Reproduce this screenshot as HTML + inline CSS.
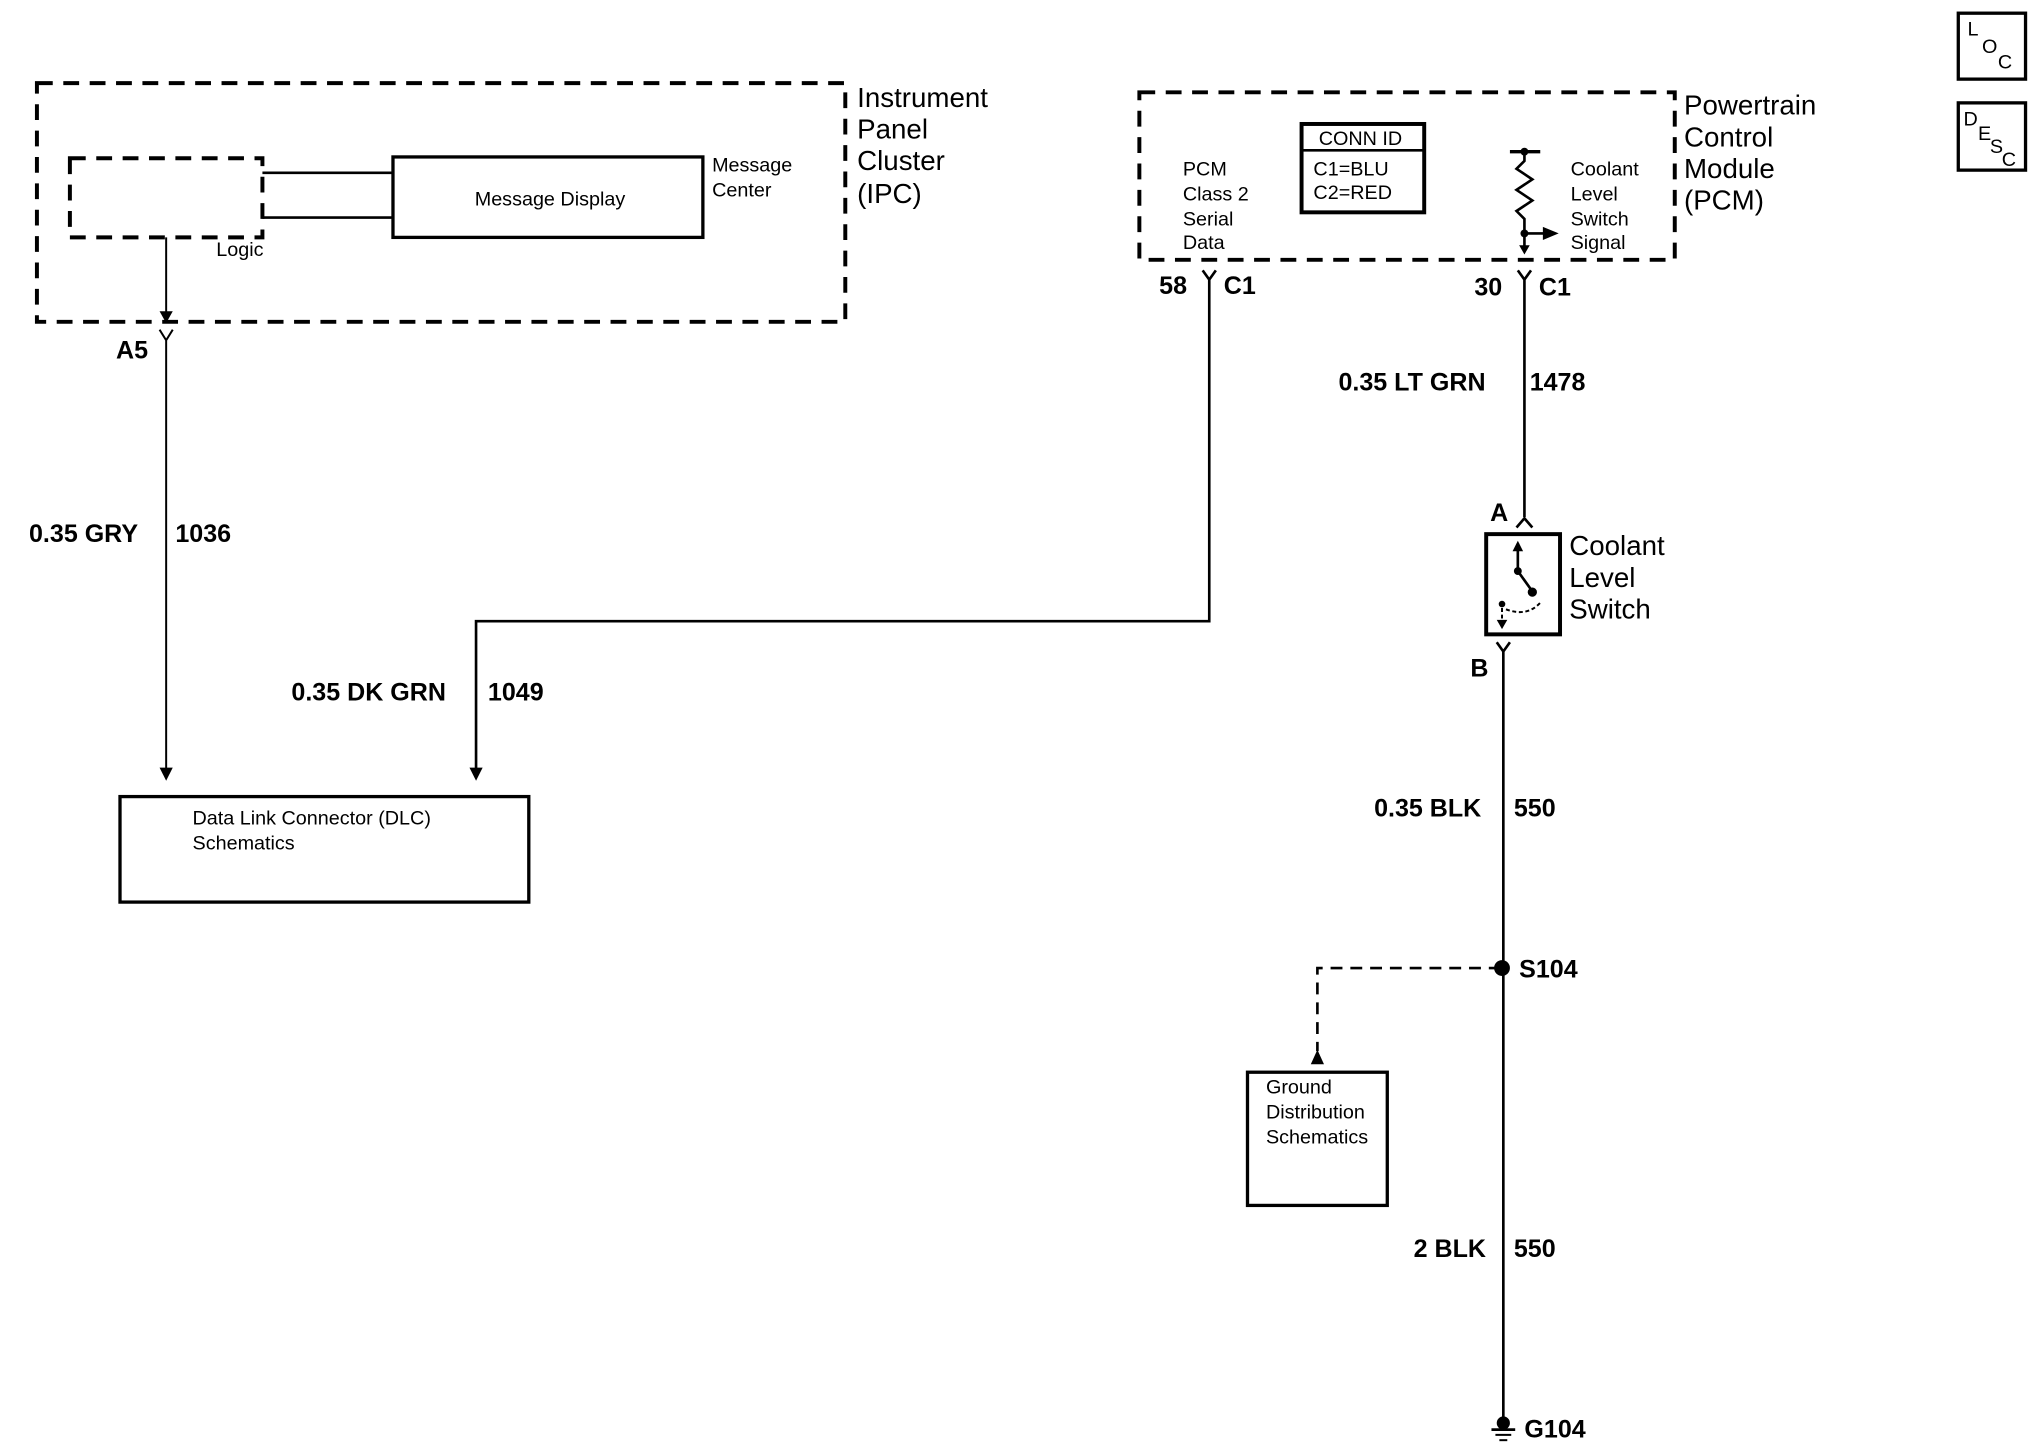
<!DOCTYPE html>
<html><head><meta charset="utf-8"><style>
html,body{margin:0;padding:0;background:#fff;}
svg{display:block;}
text{font-family:"Liberation Sans",Arial,sans-serif;fill:#000;}
.b{font-size:21px;}
.m{font-size:19px;font-weight:bold;}
.s{font-size:15px;}
</style></head><body>
<svg width="2044" height="1456" viewBox="0 0 1550 1104" preserveAspectRatio="none" xmlns="http://www.w3.org/2000/svg">
<g fill="none" stroke="#000">
<rect x="28" y="63" width="613" height="181" stroke-width="3" stroke-dasharray="12,8"/>
<rect x="53" y="120" width="146" height="60" stroke-width="3" stroke-dasharray="12,8"/>
<line x1="199" y1="131" x2="298" y2="131" stroke-width="2"/>
<line x1="199" y1="165" x2="298" y2="165" stroke-width="2"/>
<rect x="298" y="119" width="235" height="61" stroke-width="2.5"/>
<line x1="126" y1="180" x2="126" y2="242" stroke-width="1.5"/>
<path d="M121 250 L126 258 L131 250 M126 258 L126 585" stroke-width="1.5"/>
<rect x="91" y="604" width="310" height="80" stroke-width="2.5"/>
<rect x="864" y="70" width="406" height="127" stroke-width="3" stroke-dasharray="12,8"/>
<rect x="987" y="94" width="93" height="67" stroke-width="3"/>
<line x1="987" y1="114" x2="1080" y2="114" stroke-width="2"/>
<line x1="1145" y1="115" x2="1168" y2="115" stroke-width="2.5"/>
<path d="M1156 115 L1156 122 L1150 128 L1162 136 L1150 144 L1162 152 L1150 160 L1156 166 L1156 188" stroke-width="2"/>
<line x1="1156" y1="177" x2="1172" y2="177" stroke-width="2"/>
<path d="M912 205 L917 212 L922 205 M917 212 L917 471 L361 471 L361 585" stroke-width="2"/>
<path d="M1151 205 L1156 212 L1161 205 M1156 212 L1156 392" stroke-width="2"/>
<path d="M1150 400 L1156 393 L1162 400" stroke-width="2"/>
<rect x="1127" y="405" width="56" height="76" stroke-width="3"/>
<path d="M1151 432 L1151 412 M1151 433 L1161 447" stroke-width="2"/>
<path d="M1139 474 L1139 458 M1142 462 Q1158 468 1168 457" stroke-width="1.5" stroke-dasharray="3,2"/>
<path d="M1135 487 L1140 494 L1145 487 M1140 494 L1140 1076" stroke-width="2"/>
<path d="M1138 734 L999 734 L999 797" stroke-width="2" stroke-dasharray="9,6"/>
<rect x="946" y="813" width="106" height="101" stroke-width="2.5"/>
<rect x="1485" y="10" width="51" height="50" stroke-width="2.5"/>
<rect x="1485" y="78" width="51" height="51" stroke-width="2.5"/>
<line x1="1131" y1="1084" x2="1149" y2="1084" stroke-width="2"/>
<line x1="1134" y1="1088" x2="1146" y2="1088" stroke-width="1.5"/>
<line x1="1137" y1="1092" x2="1143" y2="1092" stroke-width="1.5"/>
</g>
<g fill="#000">
<path d="M121 236 L131 236 L126 245Z"/>
<path d="M121 582 L131 582 L126 592Z"/>
<path d="M356 582 L366 582 L361 592Z"/>
<path d="M1170 172 L1182 177 L1170 182Z"/>
<path d="M1152 186 L1160 186 L1156 193Z"/>
<circle cx="1156" cy="115" r="3"/>
<circle cx="1156" cy="177" r="3"/>
<path d="M1147 418 L1155 418 L1151 410Z"/>
<circle cx="1151" cy="433" r="3"/>
<circle cx="1162" cy="449" r="3.5"/>
<circle cx="1139" cy="458" r="2.5"/>
<path d="M1135 470 L1143 470 L1139 477Z"/>
<circle cx="1139" cy="734" r="6"/>
<path d="M994 807 L1004 807 L999 796Z"/>
<circle cx="1140" cy="1079" r="5"/>
</g>
<text class="b" x="650" y="81">Instrument</text>
<text class="b" x="650" y="105">Panel</text>
<text class="b" x="650" y="129">Cluster</text>
<text class="b" x="650" y="154">(IPC)</text>
<text class="s" x="164" y="194">Logic</text>
<text class="s" x="360" y="156">Message Display</text>
<text class="s" x="540" y="130">Message</text>
<text class="s" x="540" y="149">Center</text>
<text class="m" x="88" y="272">A5</text>
<text class="m" x="22" y="411">0.35 GRY</text>
<text class="m" x="133" y="411">1036</text>
<text class="s" x="146" y="625">Data Link Connector (DLC)</text>
<text class="s" x="146" y="644">Schematics</text>
<text class="m" x="221" y="531">0.35 DK GRN</text>
<text class="m" x="370" y="531">1049</text>
<text class="b" x="1277" y="87">Powertrain</text>
<text class="b" x="1277" y="111">Control</text>
<text class="b" x="1277" y="135">Module</text>
<text class="b" x="1277" y="159">(PCM)</text>
<text class="s" x="897" y="133">PCM</text>
<text class="s" x="897" y="152">Class 2</text>
<text class="s" x="897" y="171">Serial</text>
<text class="s" x="897" y="189">Data</text>
<text class="s" x="1000" y="110">CONN ID</text>
<text class="s" x="996" y="133">C1=BLU</text>
<text class="s" x="996" y="151">C2=RED</text>
<text class="s" x="1191" y="133">Coolant</text>
<text class="s" x="1191" y="152">Level</text>
<text class="s" x="1191" y="171">Switch</text>
<text class="s" x="1191" y="189">Signal</text>
<text class="m" x="879" y="223">58</text>
<text class="m" x="928" y="223">C1</text>
<text class="m" x="1118" y="224">30</text>
<text class="m" x="1167" y="224">C1</text>
<text class="m" x="1015" y="296">0.35 LT GRN</text>
<text class="m" x="1160" y="296">1478</text>
<text class="m" x="1130" y="395">A</text>
<text class="b" x="1190" y="421">Coolant</text>
<text class="b" x="1190" y="445">Level</text>
<text class="b" x="1190" y="469">Switch</text>
<text class="m" x="1115" y="513">B</text>
<text class="m" x="1042" y="619">0.35 BLK</text>
<text class="m" x="1148" y="619">550</text>
<text class="m" x="1152" y="741">S104</text>
<text class="s" x="960" y="829">Ground</text>
<text class="s" x="960" y="848">Distribution</text>
<text class="s" x="960" y="867">Schematics</text>
<text class="m" x="1072" y="953">2 BLK</text>
<text class="m" x="1148" y="953">550</text>
<text class="m" x="1156" y="1090">G104</text>
<text class="s" x="1492" y="27">L</text>
<text class="s" x="1503" y="40">O</text>
<text class="s" x="1515" y="52">C</text>
<text class="s" x="1489" y="95">D</text>
<text class="s" x="1500" y="106">E</text>
<text class="s" x="1509" y="116">S</text>
<text class="s" x="1518" y="126">C</text>
</svg>
</body></html>
